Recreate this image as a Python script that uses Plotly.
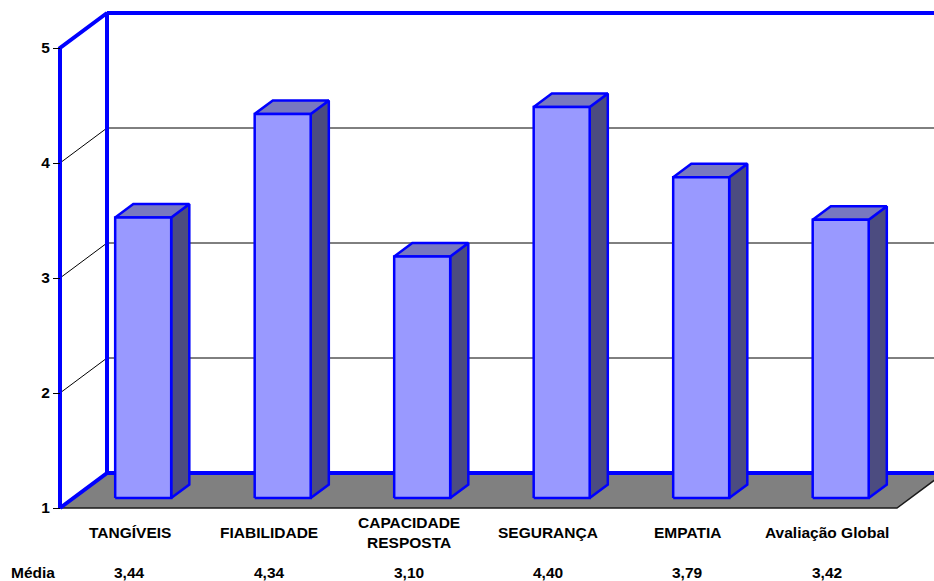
import plotly.graph_objects as go

# ---------------- data ----------------
categories = ["TANGÍVEIS", "FIABILIDADE", "CAPACIDADE<br>RESPOSTA", "SEGURANÇA", "EMPATIA", "Avaliação Global"]
values = [3.44, 4.34, 3.10, 4.40, 3.79, 3.42]
value_labels = ["3,44", "4,34", "3,10", "4,40", "3,79", "3,42"]
row_label = "Média"
y_ticks = [1, 2, 3, 4, 5]
grid_values = [2, 3, 4]
y_min, y_max = 1, 5

# ---------------- geometry (pixels) ----------------
W, H = 934, 581
PX_LEFT = 60        # front-left corner of the box
PX_BASE = 508       # pixel row of the front floor edge (value 1)
SX = 139.5          # px per category slot
SY = 115.0          # px per value unit
DEPTH_X, DEPTH_Y = 47.0, 35.0
BAR_W = 56.0 / SX
F1, F2 = 10.0 / 35.0, 23.5 / 35.0   # bar front / back depth fraction

DX = DEPTH_X / SX
DY = DEPTH_Y / SY
n = len(categories)
x_rng = [-PX_LEFT / SX, (W - PX_LEFT) / SX]
y_rng = [y_min - (H - PX_BASE) / SY, y_min + PX_BASE / SY]
x_end = x_rng[1] + 1

FONT = "Liberation Sans, Arial, sans-serif"
BLUE = "#0000FF"
TXT = dict(family=FONT, size=15.5, color="black", weight="bold")

fig = go.Figure()

# floor
fig.add_trace(go.Scatter(
    x=[0, n, n + DX, DX, 0], y=[y_min, y_min, y_min + DY, y_min + DY, y_min],
    fill="toself", fillcolor="#808080", mode="lines", line=dict(width=0)))
fig.add_trace(go.Scatter(
    x=[0, n, n + DX], y=[y_min, y_min, y_min + DY],
    mode="lines", line=dict(color="#1a1a1a", width=1.5)))

# gridlines (side wall diagonal + back wall)
gx, gy = [], []
for g in grid_values:
    gx += [0, DX, x_end, None]
    gy += [g, g + DY, g + DY, None]
fig.add_trace(go.Scatter(x=gx, y=gy, mode="lines", line=dict(color="#000000", width=1)))

# blue wall frame
fig.add_trace(go.Scatter(
    x=[0, 0, DX, DX, 0, None, DX, x_end, None, DX, x_end],
    y=[y_min, y_max, y_max + DY, y_min + DY, y_min, None,
       y_max + DY, y_max + DY, None, y_min + DY, y_min + DY],
    mode="lines", line=dict(color=BLUE, width=4)))

# bars
sx_, sy_, tx_, ty_, fx_, fy_ = [], [], [], [], [], []
for i, v in enumerate(values):
    xl = i + 0.5 - BAR_W / 2 + F1 * DX
    xr = xl + BAR_W
    yb = y_min + F1 * DY
    yt = v + F1 * DY
    ddx = (F2 - F1) * DX
    ddy = (F2 - F1) * DY
    sx_ += [xr, xr, xr + ddx, xr + ddx, xr, None]
    sy_ += [yb, yt, yt + ddy, yb + ddy, yb, None]
    tx_ += [xl, xr, xr + ddx, xl + ddx, xl, None]
    ty_ += [yt, yt, yt + ddy, yt + ddy, yt, None]
    fx_ += [xl, xr, xr, xl, xl, None]
    fy_ += [yb, yb, yt, yt, yb, None]

fig.add_trace(go.Scatter(x=sx_, y=sy_, fill="toself", fillcolor="#4C4C80",
                         mode="lines", line=dict(color=BLUE, width=2.5)))
fig.add_trace(go.Scatter(x=tx_, y=ty_, fill="toself", fillcolor="#7878C0",
                         mode="lines", line=dict(color=BLUE, width=2.5)))
fig.add_trace(go.Scatter(x=fx_, y=fy_, fill="toself", fillcolor="#9999FF",
                         mode="lines", line=dict(color=BLUE, width=2.5)))

# text rows
lab_y = y_min - (532 - PX_BASE) / SY
val_y = y_min - (572 - PX_BASE) / SY
ann = []
for i, (c, vl) in enumerate(zip(categories, value_labels)):
    ann.append(dict(x=i + 0.5, y=lab_y, xref="x", yref="y", text=c, showarrow=False,
                    xanchor="center", yanchor="middle", font=TXT))
    ann.append(dict(x=i + 0.5, y=val_y, xref="x", yref="y", text=vl, showarrow=False,
                    xanchor="center", yanchor="middle", font=TXT))
ann.append(dict(x=(33 - PX_LEFT) / SX, y=val_y, xref="x", yref="y", text=row_label,
                showarrow=False, xanchor="center", yanchor="middle", font=TXT))

fig.update_layout(
    width=W, height=H, margin=dict(l=0, r=0, t=0, b=0),
    paper_bgcolor="white", plot_bgcolor="white",
    showlegend=False, hovermode=False, template="none",
    xaxis=dict(range=x_rng, visible=False, fixedrange=True),
    yaxis=dict(range=y_rng, anchor="free", position=PX_LEFT / W,
               tickvals=y_ticks, ticktext=[str(t) for t in y_ticks],
               ticks="outside", ticklen=7, tickwidth=1, tickcolor="black",
               showgrid=False, zeroline=False, showline=False, automargin=False,
               tickfont=TXT, fixedrange=True),
    annotations=ann,
)

fig.write_html("out.html")
